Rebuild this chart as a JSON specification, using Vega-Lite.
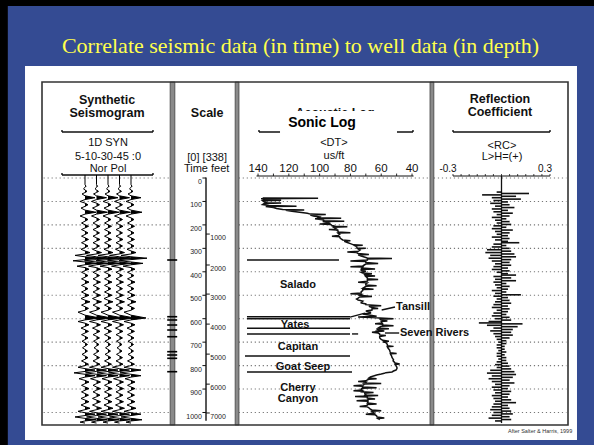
{
"$schema": "https://vega.github.io/schema/vega-lite/v6.json",
"width": 526, "height": 343,
"padding": {"left": 42, "top": 82, "right": 26, "bottom": 20},
"autosize": {"type": "none"},
"config": {"background": "#000000", "view": {"stroke": null}},
"resolve": {"scale": {"x": "independent"}},
"datasets": {
"grid": [{"t":0},{"t":100},{"t":200},{"t":300},{"t":400},{"t":500},{"t":600},{"t":700},{"t":800},{"t":900},{"t":1000}],
"feet": [{"feet":1000,"t":239},{"feet":2000,"t":371},{"feet":3000,"t":495},{"feet":4000,"t":623},{"feet":5000,"t":751},{"feet":6000,"t":879},{"feet":7000,"t":1002}],
"marks": [{"t":349.7},{"t":591.5},{"t":605.5},{"t":626.9},{"t":648.2},{"t":676.8},{"t":740.7},{"t":754.8},{"t":768.9},{"t":826}],
"seps": [{"u1":24.36,"u2":25.26},{"u1":36.72,"u2":37.45},{"u1":73.76,"u2":74.5}],
"segs": [
{"u1":3.8,"u2":21.1,"t1":-196.2,"t2":-196.2},{"u1":3.8,"u2":3.8,"t1":-196.2,"t2":-205},{"u1":21.1,"u2":21.1,"t1":-196.2,"t2":-205},
{"u1":3.8,"u2":21.1,"t1":-12.8,"t2":-12.8},{"u1":3.8,"u2":3.8,"t1":-12.8,"t2":-21},{"u1":21.1,"u2":21.1,"t1":-12.8,"t2":-21},
{"u1":41.25,"u2":70.53,"t1":-196.2,"t2":-196.2},{"u1":41.25,"u2":41.25,"t1":-196.2,"t2":-205},{"u1":70.53,"u2":70.53,"t1":-196.2,"t2":-205},
{"u1":78.14,"u2":96.58,"t1":-196.2,"t2":-196.2},{"u1":78.14,"u2":78.14,"t1":-196.2,"t2":-205},{"u1":96.58,"u2":96.58,"t1":-196.2,"t2":-205},
{"u1":31.18,"u2":31.18,"t1":-2,"t2":1035},
{"u1":38.97,"u2":56.46,"t1":349.7,"t2":349.7},
{"u1":38.97,"u2":58.56,"t1":591.5,"t2":591.5},
{"u1":38.97,"u2":58.56,"t1":600,"t2":600},
{"u1":38.97,"u2":58.56,"t1":641,"t2":641},
{"u1":38.97,"u2":58.56,"t1":665,"t2":665},
{"u1":38.59,"u2":58.56,"t1":759,"t2":759},
{"u1":38.97,"u2":58.94,"t1":827,"t2":827},
{"u1":64.58,"u2":67.11,"t1":563,"t2":550},
{"u1":65.2,"u2":67.9,"t1":661,"t2":661},
{"u1":58.94,"u2":60.1,"t1":665,"t2":665},
{"u1":58.56,"u2":61.4,"t1":593,"t2":576}
],
"hb": [{"label":"Synthetic","u":12.36,"t":-332.6},{"label":"Seismogram","u":12.36,"t":-277.2},{"label":"Scale","u":31.4,"t":-277.2},{"label":"Acoustic Log","u":55.7,"t":-277.2},{"label":"Reflection","u":87.07,"t":-336.9},{"label":"Coefficient","u":87.07,"t":-281.4}],
"hn": [{"label":"1D SYN","u":12.55,"t":-149.3},{"label":"5-10-30-45 :0","u":12.55,"t":-89.6},{"label":"Nor Pol","u":12.55,"t":-38.4},{"label":"[0] [338]","u":31.4,"t":-85.3},{"label":"Time feet","u":31.3,"t":-38.4},{"label":"<DT>","u":55.5,"t":-149.3},{"label":"us/ft","u":55.5,"t":-93.8},{"label":"<RC>","u":87.45,"t":-136.5},{"label":"L>H=(+)","u":87.45,"t":-89.6}],
"fl": [{"label":"Salado","u":48.67,"t":456.3},{"label":"Yates","u":48.1,"t":626.9},{"label":"Capitan","u":48.67,"t":720.7},{"label":"Goat Seep","u":49.62,"t":806},{"label":"Cherry","u":48.67,"t":895.5},{"label":"Canyon","u":48.67,"t":942.4}],
"fl2": [{"label":"Tansill","u":67.3,"t":550},{"label":"Seven Rivers","u":68.06,"t":661}],
"dtl": [{"dt":140},{"dt":120},{"dt":100},{"dt":80},{"dt":60},{"dt":40}],
"dtt": [{"dt":140},{"dt":130},{"dt":120},{"dt":110},{"dt":100},{"dt":90},{"dt":80},{"dt":70},{"dt":60},{"dt":50},{"dt":40}],
"rcl": [{"rc":-0.3,"label":"-0.3"},{"rc":0.3,"label":"0.3"}],
"rct": [{"rc":-0.3},{"rc":-0.25},{"rc":-0.2},{"rc":-0.15},{"rc":-0.1},{"rc":-0.05},{"rc":0},{"rc":0.05},{"rc":0.1},{"rc":0.15},{"rc":0.2},{"rc":0.25},{"rc":0.3}],
"sonic": [{"t":85,"dt":137},{"t":86,"dt":101},{"t":88,"dt":138},{"t":92,"dt":136},{"t":95,"dt":125},{"t":97,"dt":137},{"t":102,"dt":136},{"t":105,"dt":134},{"t":107,"dt":125},{"t":109,"dt":136},{"t":113,"dt":137},{"t":117,"dt":133},{"t":120,"dt":115},{"t":122,"dt":135},{"t":126,"dt":130},{"t":130,"dt":128},{"t":134,"dt":124},{"t":136,"dt":110},{"t":138,"dt":122},{"t":142,"dt":118},{"t":146,"dt":113},{"t":150,"dt":108},{"t":154,"dt":106},{"t":156,"dt":96},{"t":158,"dt":106},{"t":162,"dt":104},{"t":166,"dt":100},{"t":170,"dt":101},{"t":172,"dt":86},{"t":174,"dt":103},{"t":178,"dt":98},{"t":182,"dt":97},{"t":184,"dt":84},{"t":186,"dt":98},{"t":190,"dt":95},{"t":194,"dt":93},{"t":196,"dt":100},{"t":198,"dt":93},{"t":202,"dt":92},{"t":206,"dt":90},{"t":208,"dt":82},{"t":210,"dt":91},{"t":214,"dt":90},{"t":218,"dt":89},{"t":220,"dt":94},{"t":222,"dt":89},{"t":226,"dt":88},{"t":230,"dt":88},{"t":233,"dt":80},{"t":235,"dt":88},{"t":240,"dt":87},{"t":245,"dt":88},{"t":248,"dt":92},{"t":250,"dt":87},{"t":256,"dt":86.7},{"t":260,"dt":86},{"t":264,"dt":85},{"t":268,"dt":80},{"t":270,"dt":84},{"t":275,"dt":82},{"t":280,"dt":80},{"t":285,"dt":78},{"t":287,"dt":72},{"t":289,"dt":77},{"t":293,"dt":76},{"t":298,"dt":75.7},{"t":300,"dt":70},{"t":302,"dt":75},{"t":307,"dt":73.8},{"t":312,"dt":75},{"t":316,"dt":82},{"t":318,"dt":76},{"t":322,"dt":75},{"t":326,"dt":68},{"t":328,"dt":75},{"t":333,"dt":73},{"t":337,"dt":71},{"t":341,"dt":69},{"t":343,"dt":53},{"t":345,"dt":69},{"t":350,"dt":69},{"t":354,"dt":80},{"t":356,"dt":70},{"t":360,"dt":70},{"t":365,"dt":62},{"t":367,"dt":70},{"t":371,"dt":71},{"t":375,"dt":72},{"t":378,"dt":80},{"t":380,"dt":72},{"t":384,"dt":72.5},{"t":388,"dt":64},{"t":390,"dt":73},{"t":394,"dt":73},{"t":398,"dt":70},{"t":402,"dt":73},{"t":405,"dt":72},{"t":408,"dt":66},{"t":410,"dt":71},{"t":414,"dt":70.5},{"t":418,"dt":64},{"t":420,"dt":70},{"t":426,"dt":69},{"t":430,"dt":69},{"t":433,"dt":62},{"t":435,"dt":69},{"t":440,"dt":69},{"t":445,"dt":75},{"t":447,"dt":69},{"t":452,"dt":70},{"t":456,"dt":70},{"t":460,"dt":63},{"t":462,"dt":70},{"t":466,"dt":71},{"t":470,"dt":72},{"t":474,"dt":65},{"t":476,"dt":72},{"t":480,"dt":72},{"t":485,"dt":73},{"t":490,"dt":73},{"t":494,"dt":80},{"t":496,"dt":73},{"t":500,"dt":74},{"t":505,"dt":66},{"t":507,"dt":74},{"t":512,"dt":75},{"t":516,"dt":76},{"t":520,"dt":75},{"t":525,"dt":72},{"t":530,"dt":73},{"t":533,"dt":73},{"t":537,"dt":70},{"t":540,"dt":70},{"t":545,"dt":60},{"t":547,"dt":68},{"t":552,"dt":66},{"t":556,"dt":62},{"t":558,"dt":66},{"t":563,"dt":66},{"t":567,"dt":70},{"t":572,"dt":67},{"t":576,"dt":67},{"t":580,"dt":72},{"t":584,"dt":68},{"t":590,"dt":63},{"t":593,"dt":75},{"t":595,"dt":66},{"t":597,"dt":61},{"t":600,"dt":52},{"t":602,"dt":61},{"t":605,"dt":60},{"t":610,"dt":56},{"t":612,"dt":60},{"t":618,"dt":59.5},{"t":622,"dt":64},{"t":624,"dt":59},{"t":627,"dt":59},{"t":630,"dt":52},{"t":632,"dt":60},{"t":636,"dt":61},{"t":640,"dt":62},{"t":643,"dt":55},{"t":645,"dt":62},{"t":648,"dt":62.7},{"t":652,"dt":58},{"t":655,"dt":62},{"t":658,"dt":66},{"t":661,"dt":62},{"t":665,"dt":61},{"t":669,"dt":61},{"t":672,"dt":57},{"t":676,"dt":61},{"t":680,"dt":61},{"t":684,"dt":60.8},{"t":688,"dt":60},{"t":692,"dt":59},{"t":696,"dt":55},{"t":698,"dt":59},{"t":702,"dt":57},{"t":706,"dt":56.5},{"t":710,"dt":56},{"t":715,"dt":56},{"t":718,"dt":52},{"t":720,"dt":56},{"t":725,"dt":55.6},{"t":730,"dt":55},{"t":735,"dt":54.5},{"t":740,"dt":54.3},{"t":745,"dt":54},{"t":748,"dt":50},{"t":750,"dt":54},{"t":755,"dt":53.6},{"t":760,"dt":53.2},{"t":765,"dt":53},{"t":770,"dt":52.5},{"t":775,"dt":52},{"t":780,"dt":52.3},{"t":785,"dt":51.5},{"t":789,"dt":51},{"t":793,"dt":48},{"t":795,"dt":51},{"t":800,"dt":50.4},{"t":805,"dt":50},{"t":810,"dt":49.7},{"t":815,"dt":50},{"t":819,"dt":50.4},{"t":823,"dt":52},{"t":827,"dt":53},{"t":830,"dt":57},{"t":833,"dt":58},{"t":836,"dt":60},{"t":840,"dt":63},{"t":844,"dt":65},{"t":848,"dt":67},{"t":853,"dt":68},{"t":856,"dt":63},{"t":858,"dt":68},{"t":861,"dt":69},{"t":865,"dt":70},{"t":868,"dt":75},{"t":870,"dt":70},{"t":874,"dt":71},{"t":876,"dt":60},{"t":878,"dt":71},{"t":883,"dt":71.5},{"t":886,"dt":78},{"t":888,"dt":72},{"t":891,"dt":72},{"t":894,"dt":63},{"t":897,"dt":72.5},{"t":900,"dt":73},{"t":904,"dt":72.5},{"t":907,"dt":78},{"t":909,"dt":72},{"t":912,"dt":72.5},{"t":915,"dt":65},{"t":918,"dt":71},{"t":921,"dt":70},{"t":925,"dt":70.5},{"t":928,"dt":62},{"t":930,"dt":69},{"t":932,"dt":77},{"t":934,"dt":69},{"t":938,"dt":69},{"t":942,"dt":64},{"t":944,"dt":68.6},{"t":947,"dt":68.6},{"t":950,"dt":76},{"t":952,"dt":68.6},{"t":955,"dt":68.6},{"t":960,"dt":69},{"t":964,"dt":63},{"t":966,"dt":69},{"t":970,"dt":69.2},{"t":974,"dt":74},{"t":976,"dt":69},{"t":980,"dt":68},{"t":985,"dt":67.3},{"t":989,"dt":66},{"t":993,"dt":60},{"t":995,"dt":66},{"t":998,"dt":65.3},{"t":1003,"dt":64.5},{"t":1007,"dt":70},{"t":1010,"dt":64},{"t":1014,"dt":63},{"t":1019,"dt":62.7},{"t":1023,"dt":58},{"t":1026,"dt":62},{"t":1030,"dt":60.8}],
"rc": [{"t":60,"rc":-0.03},{"t":66,"rc":0.17},{"t":72,"rc":-0.12},{"t":78,"rc":0.09},{"t":84,"rc":-0.06},{"t":90,"rc":0.12},{"t":96,"rc":-0.05},{"t":102,"rc":0.04},{"t":108,"rc":-0.07},{"t":114,"rc":0.05},{"t":120,"rc":-0.04},{"t":126,"rc":0.08},{"t":132,"rc":-0.06},{"t":138,"rc":0.04},{"t":144,"rc":-0.05},{"t":150,"rc":0.07},{"t":156,"rc":-0.03},{"t":162,"rc":0.05},{"t":168,"rc":-0.06},{"t":174,"rc":0.03},{"t":180,"rc":-0.04},{"t":186,"rc":0.05},{"t":192,"rc":-0.03},{"t":198,"rc":0.06},{"t":204,"rc":-0.05},{"t":210,"rc":0.03},{"t":216,"rc":-0.06},{"t":222,"rc":0.07},{"t":228,"rc":-0.04},{"t":234,"rc":0.05},{"t":240,"rc":-0.03},{"t":246,"rc":0.04},{"t":252,"rc":-0.06},{"t":258,"rc":0.05},{"t":264,"rc":-0.04},{"t":270,"rc":0.04},{"t":276,"rc":0.11},{"t":282,"rc":-0.05},{"t":288,"rc":0.03},{"t":294,"rc":-0.06},{"t":300,"rc":0.05},{"t":306,"rc":-0.09},{"t":312,"rc":0.06},{"t":318,"rc":-0.1},{"t":324,"rc":0.08},{"t":330,"rc":-0.07},{"t":336,"rc":0.09},{"t":342,"rc":-0.08},{"t":348,"rc":0.06},{"t":354,"rc":-0.06},{"t":360,"rc":0.05},{"t":366,"rc":-0.04},{"t":372,"rc":0.06},{"t":378,"rc":-0.05},{"t":384,"rc":0.04},{"t":390,"rc":-0.06},{"t":396,"rc":0.05},{"t":402,"rc":-0.03},{"t":408,"rc":0.04},{"t":414,"rc":0.09},{"t":420,"rc":-0.05},{"t":426,"rc":0.06},{"t":432,"rc":-0.04},{"t":438,"rc":0.09},{"t":444,"rc":-0.05},{"t":450,"rc":0.03},{"t":456,"rc":-0.04},{"t":462,"rc":0.05},{"t":468,"rc":-0.03},{"t":474,"rc":0.04},{"t":480,"rc":-0.06},{"t":486,"rc":0.03},{"t":492,"rc":-0.04},{"t":498,"rc":0.12},{"t":504,"rc":-0.05},{"t":510,"rc":0.04},{"t":516,"rc":-0.03},{"t":522,"rc":0.05},{"t":528,"rc":-0.04},{"t":534,"rc":0.06},{"t":540,"rc":-0.05},{"t":546,"rc":0.04},{"t":552,"rc":-0.06},{"t":558,"rc":0.05},{"t":564,"rc":-0.03},{"t":570,"rc":0.04},{"t":576,"rc":-0.05},{"t":582,"rc":0.03},{"t":588,"rc":-0.06},{"t":594,"rc":0.05},{"t":600,"rc":-0.04},{"t":606,"rc":0.06},{"t":612,"rc":-0.08},{"t":618,"rc":-0.14},{"t":622,"rc":0.13},{"t":628,"rc":-0.09},{"t":634,"rc":0.1},{"t":640,"rc":-0.05},{"t":646,"rc":0.07},{"t":652,"rc":-0.07},{"t":658,"rc":0.06},{"t":664,"rc":-0.05},{"t":670,"rc":0.07},{"t":676,"rc":-0.04},{"t":682,"rc":0.05},{"t":688,"rc":-0.03},{"t":694,"rc":0.03},{"t":700,"rc":-0.02},{"t":706,"rc":0.03},{"t":712,"rc":-0.03},{"t":718,"rc":0.02},{"t":724,"rc":-0.03},{"t":730,"rc":0.02},{"t":736,"rc":-0.02},{"t":742,"rc":0.03},{"t":748,"rc":-0.03},{"t":754,"rc":0.02},{"t":760,"rc":-0.03},{"t":766,"rc":0.03},{"t":772,"rc":-0.02},{"t":778,"rc":0.03},{"t":784,"rc":-0.03},{"t":790,"rc":0.04},{"t":796,"rc":-0.04},{"t":802,"rc":0.05},{"t":808,"rc":-0.03},{"t":814,"rc":0.06},{"t":820,"rc":-0.07},{"t":826,"rc":0.08},{"t":832,"rc":-0.09},{"t":838,"rc":0.09},{"t":844,"rc":-0.06},{"t":850,"rc":0.07},{"t":856,"rc":-0.08},{"t":862,"rc":0.05},{"t":868,"rc":-0.06},{"t":874,"rc":0.08},{"t":880,"rc":-0.04},{"t":886,"rc":0.05},{"t":892,"rc":-0.06},{"t":898,"rc":0.04},{"t":904,"rc":-0.05},{"t":910,"rc":0.06},{"t":916,"rc":-0.04},{"t":922,"rc":0.05},{"t":928,"rc":-0.06},{"t":934,"rc":0.04},{"t":940,"rc":-0.05},{"t":946,"rc":0.06},{"t":952,"rc":-0.04},{"t":958,"rc":0.09},{"t":964,"rc":-0.05},{"t":970,"rc":0.04},{"t":976,"rc":-0.06},{"t":982,"rc":0.05},{"t":988,"rc":-0.07},{"t":994,"rc":0.06},{"t":1000,"rc":-0.05},{"t":1006,"rc":0.07},{"t":1012,"rc":-0.06},{"t":1018,"rc":0.05},{"t":1024,"rc":-0.08},{"t":1030,"rc":0.06},{"t":1036,"rc":-0.04}],
"syn": [{"t":-13,"amp":0},{"t":28,"amp":0},{"t":35,"amp":1},{"t":40,"amp":0},{"t":46,"amp":-1.5},{"t":51,"amp":0},{"t":57,"amp":2},{"t":62,"amp":0},{"t":68,"amp":-3},{"t":76,"amp":0},{"t":84,"amp":10},{"t":92,"amp":0},{"t":100,"amp":-5},{"t":107,"amp":0},{"t":114,"amp":3},{"t":121,"amp":0},{"t":128,"amp":-4},{"t":137,"amp":0},{"t":146,"amp":11},{"t":154,"amp":0},{"t":162,"amp":-5},{"t":170,"amp":0},{"t":177,"amp":3},{"t":184,"amp":0},{"t":192,"amp":-3.5},{"t":199,"amp":0},{"t":206,"amp":3.5},{"t":213,"amp":0},{"t":220,"amp":-3.5},{"t":227,"amp":0},{"t":234,"amp":3},{"t":241,"amp":0},{"t":248,"amp":-3.5},{"t":255,"amp":0},{"t":262,"amp":3.5},{"t":269,"amp":0},{"t":276,"amp":-3.5},{"t":283,"amp":0},{"t":290,"amp":3},{"t":297,"amp":0},{"t":304,"amp":-4},{"t":311,"amp":0},{"t":318,"amp":5},{"t":324,"amp":0},{"t":330,"amp":-10},{"t":336,"amp":0},{"t":342,"amp":16},{"t":348,"amp":0},{"t":353,"amp":-12},{"t":358,"amp":0},{"t":364,"amp":12},{"t":370,"amp":0},{"t":376,"amp":-8},{"t":382,"amp":0},{"t":389,"amp":4},{"t":395,"amp":0},{"t":402,"amp":-3.5},{"t":409,"amp":0},{"t":416,"amp":3},{"t":423,"amp":0},{"t":430,"amp":-3.5},{"t":437,"amp":0},{"t":444,"amp":4},{"t":451,"amp":0},{"t":458,"amp":-3.5},{"t":465,"amp":0},{"t":472,"amp":3},{"t":479,"amp":0},{"t":486,"amp":-3.5},{"t":493,"amp":0},{"t":500,"amp":4},{"t":507,"amp":0},{"t":514,"amp":-4},{"t":521,"amp":0},{"t":528,"amp":5},{"t":535,"amp":0},{"t":542,"amp":-3.5},{"t":549,"amp":0},{"t":556,"amp":3.5},{"t":564,"amp":0},{"t":572,"amp":-7},{"t":585,"amp":0},{"t":597,"amp":15},{"t":605,"amp":0},{"t":612,"amp":-7},{"t":619,"amp":0},{"t":626,"amp":4},{"t":633,"amp":0},{"t":640,"amp":-4},{"t":647,"amp":0},{"t":654,"amp":3.5},{"t":661,"amp":0},{"t":668,"amp":-3.5},{"t":675,"amp":0},{"t":682,"amp":3},{"t":689,"amp":0},{"t":696,"amp":-3},{"t":703,"amp":0},{"t":710,"amp":2.5},{"t":717,"amp":0},{"t":724,"amp":-2.5},{"t":731,"amp":0},{"t":738,"amp":2.5},{"t":745,"amp":0},{"t":752,"amp":-3},{"t":759,"amp":0},{"t":766,"amp":3},{"t":773,"amp":0},{"t":780,"amp":-3.5},{"t":787,"amp":0},{"t":794,"amp":3.5},{"t":800,"amp":0},{"t":807,"amp":-7},{"t":813,"amp":0},{"t":819,"amp":10},{"t":825,"amp":0},{"t":831,"amp":-11},{"t":837,"amp":0},{"t":843,"amp":10},{"t":849,"amp":0},{"t":856,"amp":-6},{"t":863,"amp":0},{"t":870,"amp":4},{"t":877,"amp":0},{"t":884,"amp":-3.5},{"t":891,"amp":0},{"t":898,"amp":4},{"t":905,"amp":0},{"t":912,"amp":-3.5},{"t":919,"amp":0},{"t":926,"amp":3.5},{"t":933,"amp":0},{"t":940,"amp":-4},{"t":947,"amp":0},{"t":954,"amp":4},{"t":961,"amp":0},{"t":968,"amp":-4},{"t":975,"amp":0},{"t":982,"amp":5},{"t":988,"amp":0},{"t":995,"amp":-7},{"t":1001,"amp":0},{"t":1007,"amp":10},{"t":1013,"amp":0},{"t":1019,"amp":-10},{"t":1025,"amp":0},{"t":1031,"amp":11},{"t":1036,"amp":0},{"t":1041,"amp":-5},{"t":1045,"amp":0}]
},
"layer": [
{"data":{"values":[{}]},"mark":{"type":"rect","fill":"#344B93"},"encoding":{"x":{"datum":-6.5,"type":"quantitative","scale":{"domain":[0,100],"nice":false,"zero":false},"axis":null},"x2":{"datum":106.1},"y":{"datum":-733.5,"type":"quantitative","scale":{"domain":[-409.4,1053.3],"reverse":true,"nice":false,"zero":false},"axis":null},"y2":{"datum":1160}}},
{"data":{"values":[{}]},"mark":{"type":"rect","fill":"#ffffff"},"encoding":{"x":{"datum":-3.23,"type":"quantitative","scale":{"domain":[0,100],"nice":false,"zero":false},"axis":null},"x2":{"datum":101.71},"y":{"datum":-477.6,"type":"quantitative","scale":{"domain":[-409.4,1053.3],"reverse":true,"nice":false,"zero":false},"axis":null},"y2":{"datum":1117.3}}},
{"data":{"name":"grid"},"mark":{"type":"rule","color":"#777777","strokeWidth":1.1,"strokeDash":[1.2,2.8]},"encoding":{"x":{"datum":0.3,"type":"quantitative","scale":{"domain":[0,100],"nice":false,"zero":false},"axis":null},"x2":{"datum":24.3},"y":{"field":"t","type":"quantitative","scale":{"domain":[-409.4,1053.3],"reverse":true,"nice":false,"zero":false},"axis":null}}},
{"data":{"name":"grid"},"mark":{"type":"rule","color":"#777777","strokeWidth":1.1,"strokeDash":[1.2,2.8]},"encoding":{"x":{"datum":37.4,"type":"quantitative","scale":{"domain":[0,100],"nice":false,"zero":false},"axis":null},"x2":{"datum":73.7},"y":{"field":"t","type":"quantitative","scale":{"domain":[-409.4,1053.3],"reverse":true,"nice":false,"zero":false},"axis":null}}},
{"data":{"name":"grid"},"mark":{"type":"rule","color":"#777777","strokeWidth":1.1,"strokeDash":[1.2,2.8]},"encoding":{"x":{"datum":74.5,"type":"quantitative","scale":{"domain":[0,100],"nice":false,"zero":false},"axis":null},"x2":{"datum":99.7},"y":{"field":"t","type":"quantitative","scale":{"domain":[-409.4,1053.3],"reverse":true,"nice":false,"zero":false},"axis":null}}},
{"data":{"name":"segs"},"mark":{"type":"rule","color":"#111111","strokeWidth":1.4},"encoding":{"x":{"field":"u1","type":"quantitative","scale":{"domain":[0,100],"nice":false,"zero":false},"axis":null},"x2":{"field":"u2"},"y":{"field":"t1","type":"quantitative","scale":{"domain":[-409.4,1053.3],"reverse":true,"nice":false,"zero":false},"axis":null},"y2":{"field":"t2"}}},
{"data":{"name":"sonic"},"mark":{"type":"line","color":"#111111","strokeWidth":1.5},"encoding":{"x":{"field":"dt","type":"quantitative","scale":{"domain":[280.3,-61.3],"nice":false,"zero":false},"axis":null},"y":{"field":"t","type":"quantitative","scale":{"domain":[-409.4,1053.3],"reverse":true,"nice":false,"zero":false},"axis":null},"order":{"field":"t","type":"quantitative"}}},
{"data":{"name":"syn"},"transform":[{"filter":"datum.amp >= 0"}],"mark":{"type":"area","orient":"horizontal","color":"#000000"},"encoding":{"x":{"field":"amp","type":"quantitative","scale":{"domain":[-43,483],"nice":false,"zero":false},"axis":null},"x2":{"datum":0},"y":{"field":"t","type":"quantitative","scale":{"domain":[-409.4,1053.3],"reverse":true,"nice":false,"zero":false},"axis":null}}},
{"data":{"name":"syn"},"mark":{"type":"line","color":"#000000","strokeWidth":1},"encoding":{"x":{"field":"amp","type":"quantitative","scale":{"domain":[-43,483],"nice":false,"zero":false},"axis":null},"y":{"field":"t","type":"quantitative","scale":{"domain":[-409.4,1053.3],"reverse":true,"nice":false,"zero":false},"axis":null},"order":{"field":"t","type":"quantitative"}}},
{"data":{"name":"syn"},"transform":[{"filter":"datum.amp >= 0"}],"mark":{"type":"area","orient":"horizontal","color":"#000000"},"encoding":{"x":{"field":"amp","type":"quantitative","scale":{"domain":[-54.5,471.5],"nice":false,"zero":false},"axis":null},"x2":{"datum":0},"y":{"field":"t","type":"quantitative","scale":{"domain":[-409.4,1053.3],"reverse":true,"nice":false,"zero":false},"axis":null}}},
{"data":{"name":"syn"},"mark":{"type":"line","color":"#000000","strokeWidth":1},"encoding":{"x":{"field":"amp","type":"quantitative","scale":{"domain":[-54.5,471.5],"nice":false,"zero":false},"axis":null},"y":{"field":"t","type":"quantitative","scale":{"domain":[-409.4,1053.3],"reverse":true,"nice":false,"zero":false},"axis":null},"order":{"field":"t","type":"quantitative"}}},
{"data":{"name":"syn"},"transform":[{"filter":"datum.amp >= 0"}],"mark":{"type":"area","orient":"horizontal","color":"#000000"},"encoding":{"x":{"field":"amp","type":"quantitative","scale":{"domain":[-66,460],"nice":false,"zero":false},"axis":null},"x2":{"datum":0},"y":{"field":"t","type":"quantitative","scale":{"domain":[-409.4,1053.3],"reverse":true,"nice":false,"zero":false},"axis":null}}},
{"data":{"name":"syn"},"mark":{"type":"line","color":"#000000","strokeWidth":1},"encoding":{"x":{"field":"amp","type":"quantitative","scale":{"domain":[-66,460],"nice":false,"zero":false},"axis":null},"y":{"field":"t","type":"quantitative","scale":{"domain":[-409.4,1053.3],"reverse":true,"nice":false,"zero":false},"axis":null},"order":{"field":"t","type":"quantitative"}}},
{"data":{"name":"syn"},"transform":[{"filter":"datum.amp >= 0"}],"mark":{"type":"area","orient":"horizontal","color":"#000000"},"encoding":{"x":{"field":"amp","type":"quantitative","scale":{"domain":[-77.5,448.5],"nice":false,"zero":false},"axis":null},"x2":{"datum":0},"y":{"field":"t","type":"quantitative","scale":{"domain":[-409.4,1053.3],"reverse":true,"nice":false,"zero":false},"axis":null}}},
{"data":{"name":"syn"},"mark":{"type":"line","color":"#000000","strokeWidth":1},"encoding":{"x":{"field":"amp","type":"quantitative","scale":{"domain":[-77.5,448.5],"nice":false,"zero":false},"axis":null},"y":{"field":"t","type":"quantitative","scale":{"domain":[-409.4,1053.3],"reverse":true,"nice":false,"zero":false},"axis":null},"order":{"field":"t","type":"quantitative"}}},
{"data":{"name":"syn"},"transform":[{"filter":"datum.amp >= 0"}],"mark":{"type":"area","orient":"horizontal","color":"#000000"},"encoding":{"x":{"field":"amp","type":"quantitative","scale":{"domain":[-89,437],"nice":false,"zero":false},"axis":null},"x2":{"datum":0},"y":{"field":"t","type":"quantitative","scale":{"domain":[-409.4,1053.3],"reverse":true,"nice":false,"zero":false},"axis":null}}},
{"data":{"name":"syn"},"mark":{"type":"line","color":"#000000","strokeWidth":1},"encoding":{"x":{"field":"amp","type":"quantitative","scale":{"domain":[-89,437],"nice":false,"zero":false},"axis":null},"y":{"field":"t","type":"quantitative","scale":{"domain":[-409.4,1053.3],"reverse":true,"nice":false,"zero":false},"axis":null},"order":{"field":"t","type":"quantitative"}}},
{"data":{"values":[{}]},"mark":{"type":"rule","color":"#111111","strokeWidth":1.3},"encoding":{"x":{"datum":0,"type":"quantitative","scale":{"domain":[-2.842,0.4113],"nice":false,"zero":false},"axis":null},"y":{"datum":-8.5,"type":"quantitative","scale":{"domain":[-409.4,1053.3],"reverse":true,"nice":false,"zero":false},"axis":null},"y2":{"datum":1045}}},
{"data":{"name":"rc"},"mark":{"type":"rule","color":"#111111","strokeWidth":1.6},"encoding":{"x":{"field":"rc","type":"quantitative","scale":{"domain":[-2.842,0.4113],"nice":false,"zero":false},"axis":null},"x2":{"datum":0},"y":{"field":"t","type":"quantitative","scale":{"domain":[-409.4,1053.3],"reverse":true,"nice":false,"zero":false},"axis":null}}},
{"data":{"values":[{}]},"mark":{"type":"rule","color":"#111111","strokeWidth":1.2},"encoding":{"x":{"datum":-0.3,"type":"quantitative","scale":{"domain":[-2.842,0.4113],"nice":false,"zero":false},"axis":null},"x2":{"datum":0.3},"y":{"datum":-8.5,"type":"quantitative","scale":{"domain":[-409.4,1053.3],"reverse":true,"nice":false,"zero":false},"axis":null}}},
{"data":{"name":"rct"},"mark":{"type":"rule","color":"#111111","strokeWidth":0.8},"encoding":{"x":{"field":"rc","type":"quantitative","scale":{"domain":[-2.842,0.4113],"nice":false,"zero":false},"axis":null},"y":{"datum":-8.5,"type":"quantitative","scale":{"domain":[-409.4,1053.3],"reverse":true,"nice":false,"zero":false},"axis":null},"y2":{"datum":-17}}},
{"data":{"name":"rcl"},"mark":{"type":"text","font":"Liberation Sans","fontSize":10,"color":"#111111","align":"center","baseline":"middle","dx":-5},"encoding":{"x":{"field":"rc","type":"quantitative","scale":{"domain":[-2.842,0.4113],"nice":false,"zero":false},"axis":null},"y":{"datum":-38.4,"type":"quantitative","scale":{"domain":[-409.4,1053.3],"reverse":true,"nice":false,"zero":false},"axis":null},"text":{"field":"label","type":"nominal"}}},
{"data":{"values":[{}]},"mark":{"type":"rule","color":"#111111","strokeWidth":1.2},"encoding":{"x":{"datum":141,"type":"quantitative","scale":{"domain":[280.3,-61.3],"nice":false,"zero":false},"axis":null},"x2":{"datum":39},"y":{"datum":-8.5,"type":"quantitative","scale":{"domain":[-409.4,1053.3],"reverse":true,"nice":false,"zero":false},"axis":null}}},
{"data":{"name":"dtt"},"mark":{"type":"rule","color":"#111111","strokeWidth":0.9},"encoding":{"x":{"field":"dt","type":"quantitative","scale":{"domain":[280.3,-61.3],"nice":false,"zero":false},"axis":null},"y":{"datum":-8.5,"type":"quantitative","scale":{"domain":[-409.4,1053.3],"reverse":true,"nice":false,"zero":false},"axis":null},"y2":{"datum":-19}}},
{"data":{"name":"dtl"},"mark":{"type":"text","font":"Liberation Sans","fontSize":11.5,"color":"#111111","align":"center","baseline":"middle"},"encoding":{"x":{"field":"dt","type":"quantitative","scale":{"domain":[280.3,-61.3],"nice":false,"zero":false},"axis":null},"y":{"datum":-38.4,"type":"quantitative","scale":{"domain":[-409.4,1053.3],"reverse":true,"nice":false,"zero":false},"axis":null},"text":{"field":"dt","type":"quantitative","format":"d"}}},
{"data":{"name":"grid"},"mark":{"type":"rule","color":"#111111","strokeWidth":1},"encoding":{"x":{"datum":30.5,"type":"quantitative","scale":{"domain":[0,100],"nice":false,"zero":false},"axis":null},"x2":{"datum":31.18},"y":{"field":"t","type":"quantitative","scale":{"domain":[-409.4,1053.3],"reverse":true,"nice":false,"zero":false},"axis":null}}},
{"data":{"name":"grid"},"mark":{"type":"text","font":"Liberation Sans","fontSize":7,"color":"#222222","align":"right","baseline":"middle","dy":4},"encoding":{"x":{"datum":30.4,"type":"quantitative","scale":{"domain":[0,100],"nice":false,"zero":false},"axis":null},"y":{"field":"t","type":"quantitative","scale":{"domain":[-409.4,1053.3],"reverse":true,"nice":false,"zero":false},"axis":null},"text":{"field":"t","type":"quantitative","format":"d"}}},
{"data":{"name":"feet"},"mark":{"type":"rule","color":"#111111","strokeWidth":1},"encoding":{"x":{"datum":31.18,"type":"quantitative","scale":{"domain":[0,100],"nice":false,"zero":false},"axis":null},"x2":{"datum":31.9},"y":{"field":"t","type":"quantitative","scale":{"domain":[-409.4,1053.3],"reverse":true,"nice":false,"zero":false},"axis":null}}},
{"data":{"name":"feet"},"mark":{"type":"text","font":"Liberation Sans","fontSize":7,"color":"#222222","align":"left","baseline":"middle","dy":4},"encoding":{"x":{"datum":32.0,"type":"quantitative","scale":{"domain":[0,100],"nice":false,"zero":false},"axis":null},"y":{"field":"t","type":"quantitative","scale":{"domain":[-409.4,1053.3],"reverse":true,"nice":false,"zero":false},"axis":null},"text":{"field":"feet","type":"quantitative","format":"d"}}},
{"data":{"name":"seps"},"mark":{"type":"rect","fill":"#8a8a8a","stroke":"#333333","strokeWidth":0.7},"encoding":{"x":{"field":"u1","type":"quantitative","scale":{"domain":[0,100],"nice":false,"zero":false},"axis":null},"x2":{"field":"u2"},"y":{"datum":-409.4,"type":"quantitative","scale":{"domain":[-409.4,1053.3],"reverse":true,"nice":false,"zero":false},"axis":null},"y2":{"datum":1053.3}}},
{"data":{"values":[{}]},"mark":{"type":"rect","fill":null,"fillOpacity":0,"stroke":"#333333","strokeWidth":1.6},"encoding":{"x":{"datum":0,"type":"quantitative","scale":{"domain":[0,100],"nice":false,"zero":false},"axis":null},"x2":{"datum":100},"y":{"datum":-409.4,"type":"quantitative","scale":{"domain":[-409.4,1053.3],"reverse":true,"nice":false,"zero":false},"axis":null},"y2":{"datum":1053.3}}},
{"data":{"name":"marks"},"mark":{"type":"rule","color":"#000000","strokeWidth":1.6},"encoding":{"x":{"datum":23.8,"type":"quantitative","scale":{"domain":[0,100],"nice":false,"zero":false},"axis":null},"x2":{"datum":25.7},"y":{"field":"t","type":"quantitative","scale":{"domain":[-409.4,1053.3],"reverse":true,"nice":false,"zero":false},"axis":null}}},
{"data":{"name":"hb"},"mark":{"type":"text","font":"Liberation Sans","fontWeight":"bold","fontSize":12.5,"color":"#111111","align":"center","baseline":"middle"},"encoding":{"x":{"field":"u","type":"quantitative","scale":{"domain":[0,100],"nice":false,"zero":false},"axis":null},"y":{"field":"t","type":"quantitative","scale":{"domain":[-409.4,1053.3],"reverse":true,"nice":false,"zero":false},"axis":null},"text":{"field":"label","type":"nominal"}}},
{"data":{"values":[{}]},"mark":{"type":"rect","fill":"#ffffff"},"encoding":{"x":{"datum":45.25,"type":"quantitative","scale":{"domain":[0,100],"nice":false,"zero":false},"axis":null},"x2":{"datum":67.49},"y":{"datum":-285.7,"type":"quantitative","scale":{"domain":[-409.4,1053.3],"reverse":true,"nice":false,"zero":false},"axis":null},"y2":{"datum":-187.6}}},
{"data":{"values":[{}]},"mark":{"type":"text","text":"Sonic Log","font":"Liberation Sans","fontWeight":"bold","fontSize":14,"color":"#000000","align":"center","baseline":"middle"},"encoding":{"x":{"datum":53.23,"type":"quantitative","scale":{"domain":[0,100],"nice":false,"zero":false},"axis":null},"y":{"datum":-234.5,"type":"quantitative","scale":{"domain":[-409.4,1053.3],"reverse":true,"nice":false,"zero":false},"axis":null}}},
{"data":{"name":"hn"},"mark":{"type":"text","font":"Liberation Sans","fontSize":11,"color":"#111111","align":"center","baseline":"middle"},"encoding":{"x":{"field":"u","type":"quantitative","scale":{"domain":[0,100],"nice":false,"zero":false},"axis":null},"y":{"field":"t","type":"quantitative","scale":{"domain":[-409.4,1053.3],"reverse":true,"nice":false,"zero":false},"axis":null},"text":{"field":"label","type":"nominal"}}},
{"data":{"name":"fl"},"mark":{"type":"text","font":"Liberation Sans","fontWeight":"bold","fontSize":11,"color":"#111111","align":"center","baseline":"middle"},"encoding":{"x":{"field":"u","type":"quantitative","scale":{"domain":[0,100],"nice":false,"zero":false},"axis":null},"y":{"field":"t","type":"quantitative","scale":{"domain":[-409.4,1053.3],"reverse":true,"nice":false,"zero":false},"axis":null},"text":{"field":"label","type":"nominal"}}},
{"data":{"name":"fl2"},"mark":{"type":"text","font":"Liberation Sans","fontWeight":"bold","fontSize":11,"color":"#111111","align":"left","baseline":"middle"},"encoding":{"x":{"field":"u","type":"quantitative","scale":{"domain":[0,100],"nice":false,"zero":false},"axis":null},"y":{"field":"t","type":"quantitative","scale":{"domain":[-409.4,1053.3],"reverse":true,"nice":false,"zero":false},"axis":null},"text":{"field":"label","type":"nominal"}}},
{"data":{"values":[{}]},"mark":{"type":"text","text":"Correlate seismic data (in time) to well data (in depth)","font":"Liberation Serif","fontSize":22,"color":"#FFFF4D","align":"center","baseline":"alphabetic"},"encoding":{"x":{"datum":49.14,"type":"quantitative","scale":{"domain":[0,100],"nice":false,"zero":false},"axis":null},"y":{"datum":-533,"type":"quantitative","scale":{"domain":[-409.4,1053.3],"reverse":true,"nice":false,"zero":false},"axis":null}}},
{"data":{"values":[{}]},"mark":{"type":"text","text":"After Salter & Harris, 1999","font":"Liberation Sans","fontSize":5.5,"color":"#333333","align":"center","baseline":"middle"},"encoding":{"x":{"datum":94.7,"type":"quantitative","scale":{"domain":[0,100],"nice":false,"zero":false},"axis":null},"y":{"datum":1079,"type":"quantitative","scale":{"domain":[-409.4,1053.3],"reverse":true,"nice":false,"zero":false},"axis":null}}}
]
}
